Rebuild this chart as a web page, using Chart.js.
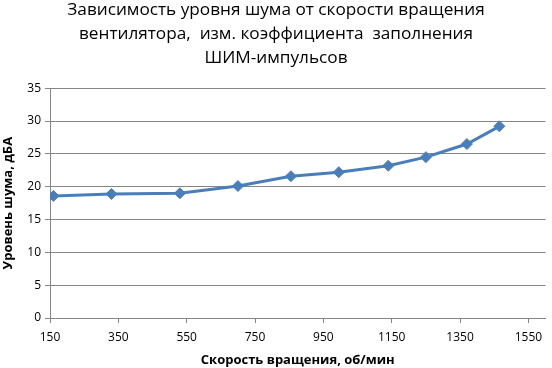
<!DOCTYPE html>
<html>
<head>
<meta charset="utf-8">
<script src="https://cdn.jsdelivr.net/npm/chart.js@4"></script>
<style>
  html, body { margin: 0; padding: 0; background: #fff; }
  #wrap { width: 552px; height: 368px; position: relative; }
</style>
</head>
<body>
<div id="wrap"><canvas id="noiseChart"></canvas></div>
<script>
const speedRpm = [160, 330, 530, 700, 855, 995, 1140, 1250, 1370, 1465];
const noiseDb = [18.6, 18.9, 19.0, 20.1, 21.6, 22.2, 23.2, 24.5, 26.5, 29.2];
const xTickValues = [150, 350, 550, 750, 950, 1150, 1350, 1550];
const titleLines = [
  "Зависимость уровня шума от скорости вращения",
  "вентилятора,  изм. коэффициента  заполнения",
  "ШИМ-импульсов",
];

const axisGray = "#868686";
const lineBlue = "#4A7EBB";

const points = speedRpm.map((x, i) => ({ x: x, y: noiseDb[i] }));

const ctx = document.getElementById("noiseChart");
new Chart(ctx, {
  type: "scatter",
  data: {
    datasets: [
      {
        label: "Уровень шума",
        data: points,
        showLine: true,
        borderColor: lineBlue,
        backgroundColor: lineBlue,
        borderWidth: 3,
        pointStyle: "rectRot",
        pointRadius: 5.5,
        pointHoverRadius: 5.5,
        pointBorderWidth: 1,
      },
    ],
  },
  options: {
    responsive: true,
    maintainAspectRatio: false,
    animation: false,
    layout: { padding: { left: 0, right: 0, top: 0, bottom: 0 } },
    scales: {
      x: {
        type: "linear",
        min: 150,
        max: 1600,
        afterBuildTicks: (scale) => {
          scale.ticks = xTickValues.map((v) => ({ value: v }));
        },
        afterFit: (scale) => {
          scale.height = 50;
        },
        grid: {
          drawOnChartArea: false,
          color: axisGray,
          tickLength: 5,
        },
        border: { color: axisGray },
        ticks: {
          color: "#000",
          font: { family: "Open Sans", size: 12 },
          padding: 7,
          maxRotation: 0,
          autoSkip: false,
          callback: (value) => String(value),
        },
        title: {
          display: true,
          text: "Скорость вращения, об/мин",
          color: "#000",
          font: { family: "Open Sans", size: 13, weight: "bold" },
          padding: { top: 4, bottom: 0 },
        },
      },
      y: {
        min: 0,
        max: 35,
        afterFit: (scale) => {
          scale.width = 50;
        },
        grid: {
          color: axisGray,
          tickLength: 5,
        },
        border: { color: axisGray },
        ticks: {
          stepSize: 5,
          color: "#000",
          font: { family: "Open Sans", size: 12 },
          padding: 4,
        },
        title: {
          display: true,
          text: "Уровень шума, дБА",
          color: "#000",
          font: { family: "Open Sans", size: 13, weight: "bold" },
          padding: { top: 0, bottom: 0 },
        },
      },
    },
    plugins: {
      legend: { display: false },
      tooltip: { enabled: false },
      title: {
        display: true,
        text: titleLines,
        color: "#000",
        font: { family: "Open Sans", size: 17.2, weight: "normal", lineHeight: 1.4 },
        padding: { top: -2, bottom: 18 },
      },
    },
  },
});
</script>
</body>
</html>
